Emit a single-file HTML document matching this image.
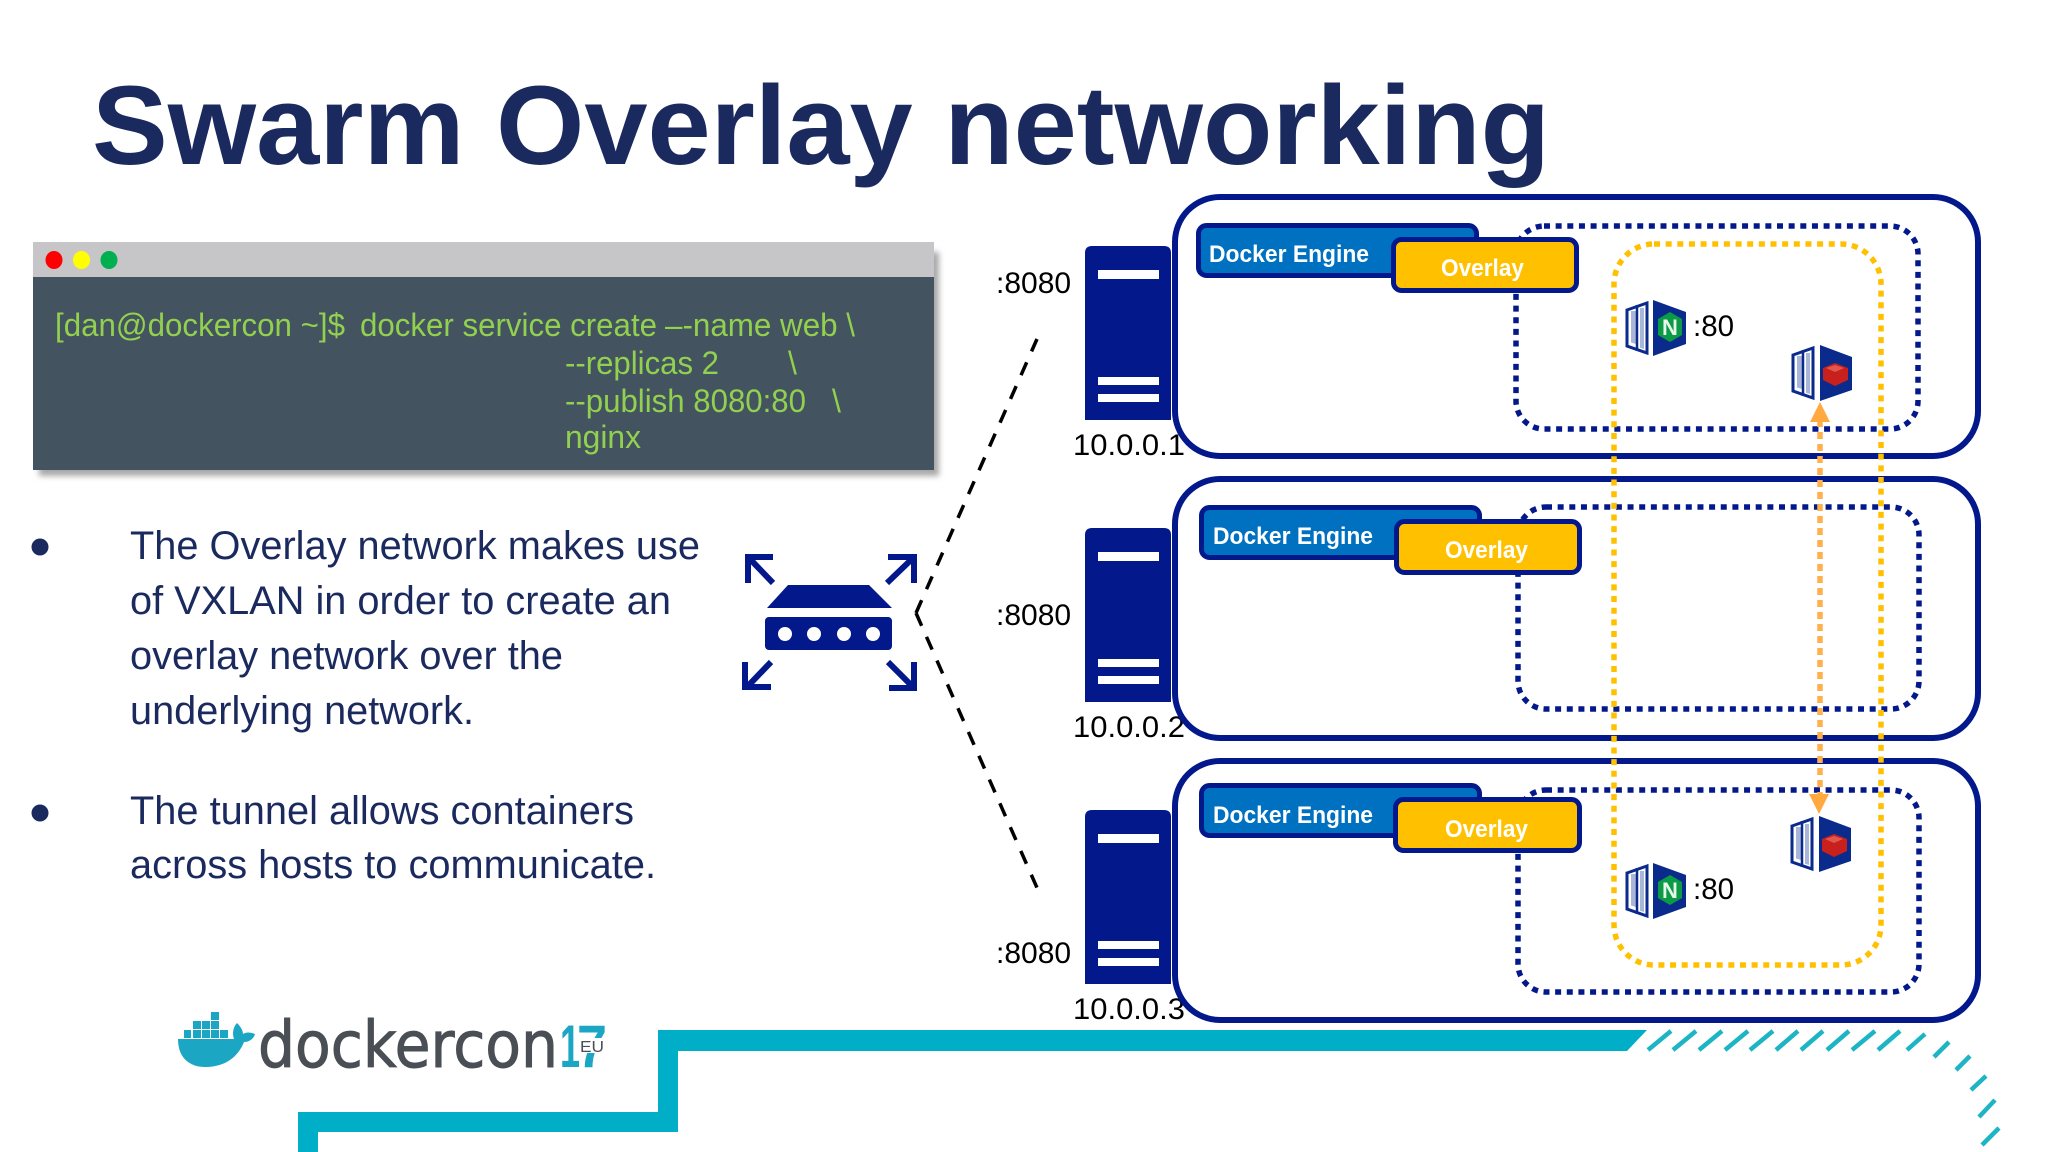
<!DOCTYPE html>
<html>
<head>
<meta charset="utf-8">
<style>
html,body{margin:0;padding:0;background:#fff;width:2048px;height:1152px;overflow:hidden}
svg{display:block}
text{font-family:"Liberation Sans",sans-serif}
</style>
</head>
<body>
<svg xmlns="http://www.w3.org/2000/svg" width="2048" height="1152" viewBox="0 0 2048 1152">
<defs>
<filter id="b" x="-5%" y="-5%" width="110%" height="110%"><feGaussianBlur stdDeviation="3"/></filter>
<g id="server">
<path d="M1085 253q0-7 7-7h72q7 0 7 7v167h-86z" fill="#03188a"/>
<rect x="1098" y="270" width="61" height="9" fill="#fff"/>
<rect x="1098" y="377" width="61" height="8" fill="#fff"/>
<rect x="1098" y="394" width="61" height="8" fill="#fff"/>
</g>
<g id="door">
<path d="M1627 310L1647 303V353L1627 346Z" fill="#fff" stroke="#0a2a8c" stroke-width="3"/>
<path d="M1631 311h5v33l-5-1.500zM1640 308h4v41l-4-1.300z" fill="#a9b6d8"/>
<path d="M1637 305v46" stroke="#0a2a8c" stroke-width="2.500"/>
</g>
</defs>

<rect width="2048" height="1152" fill="#fff"/>

<!-- Title -->
<text x="92" y="164" font-size="112" font-weight="700" fill="#1b2a5e" textLength="1458" lengthAdjust="spacingAndGlyphs">Swarm Overlay networking</text>

<!-- Terminal -->
<rect x="39" y="252" width="900" height="224" fill="#a8a8a8" filter="url(#b)"/>
<rect x="33" y="242" width="901" height="35" fill="#c6c6c8"/>
<rect x="33" y="277" width="901" height="193" fill="#43535f"/>
<ellipse cx="54" cy="260" rx="8.500" ry="9" fill="#ff0000"/>
<ellipse cx="81.500" cy="260" rx="8.500" ry="9" fill="#ffff00"/>
<ellipse cx="109" cy="260" rx="8.500" ry="9" fill="#00b050"/>
<g font-size="32" fill="#92d050">
<text x="55" y="336" textLength="290" lengthAdjust="spacingAndGlyphs">[dan@dockercon ~]$</text>
<text x="360" y="336" textLength="297" lengthAdjust="spacingAndGlyphs">docker service create</text>
<text x="665" y="336" textLength="190" lengthAdjust="spacingAndGlyphs">–-name web \</text>
<text x="565" y="374" textLength="154" lengthAdjust="spacingAndGlyphs">--replicas 2</text>
<text x="788" y="374">\</text>
<text x="565" y="412" textLength="241" lengthAdjust="spacingAndGlyphs">--publish 8080:80</text>
<text x="832" y="412">\</text>
<text x="565" y="448" textLength="76" lengthAdjust="spacingAndGlyphs">nginx</text>
</g>

<!-- Bullets -->
<ellipse cx="40" cy="547" rx="8.500" ry="8.500" fill="#1b2a5e"/>
<ellipse cx="40" cy="813" rx="8.500" ry="8.500" fill="#1b2a5e"/>
<g font-size="40" fill="#1b2a5e">
<text x="130" y="559" textLength="570" lengthAdjust="spacingAndGlyphs">The Overlay network makes use</text>
<text x="130" y="614" textLength="541" lengthAdjust="spacingAndGlyphs">of VXLAN in order to create an</text>
<text x="130" y="669" textLength="433" lengthAdjust="spacingAndGlyphs">overlay network over the</text>
<text x="130" y="724" textLength="344" lengthAdjust="spacingAndGlyphs">underlying network.</text>
<text x="130" y="824" textLength="504" lengthAdjust="spacingAndGlyphs">The tunnel allows containers</text>
<text x="130" y="878" textLength="526" lengthAdjust="spacingAndGlyphs">across hosts to communicate.</text>
</g>

<!-- Router icon -->
<path d="M788 585H869L892 608H767Z" fill="#03188a"/>
<rect x="765" y="617" width="127" height="33" rx="4" fill="#03188a"/>
<g fill="#fff"><circle cx="785" cy="634" r="7"/><circle cx="814" cy="634" r="7"/><circle cx="844" cy="634" r="7"/><circle cx="873" cy="634" r="7"/></g>
<g fill="none" stroke="#03188a" stroke-width="6">
<path d="M773 583L749 558M773 557H748V583"/>
<path d="M887 583L913 558M888 557H914V583"/>
<path d="M771 662L747 687M771 687H745V662"/>
<path d="M888 662L913 687M889 688H914V662"/>
</g>

<!-- Dashed links -->
<g fill="none" stroke="#000" stroke-width="3.500" stroke-dasharray="14 12">
<path d="M916 613L1037 339"/>
<path d="M916 613L1038 890"/>
</g>

<!-- Servers -->
<use href="#server"/>
<use href="#server" y="282"/>
<use href="#server" y="564"/>

<!-- Labels -->
<g font-size="30" fill="#000">
<text x="996" y="293">:8080</text>
<text x="996" y="625">:8080</text>
<text x="996" y="963">:8080</text>
<text x="1073" y="455" textLength="112" lengthAdjust="spacingAndGlyphs">10.0.0.1</text>
<text x="1073" y="737" textLength="112" lengthAdjust="spacingAndGlyphs">10.0.0.2</text>
<text x="1073" y="1019" textLength="112" lengthAdjust="spacingAndGlyphs">10.0.0.3</text>
</g>

<!-- Hosts -->
<g fill="none" stroke="#03188a" stroke-width="6">
<rect x="1175" y="197" width="803" height="259" rx="45"/>
<rect x="1175" y="479" width="803" height="259" rx="45"/>
<rect x="1175" y="761" width="803" height="259" rx="45"/>
</g>

<!-- Overlay network dotted -->
<g fill="none" stroke="#03188a" stroke-width="5.500" stroke-dasharray="6 5.650">
<rect x="1516" y="226" width="402" height="203" rx="28"/>
<rect x="1518" y="507" width="401" height="202" rx="28"/>
<rect x="1518" y="790" width="401" height="202" rx="28"/>
</g>
<rect x="1614" y="244" width="267" height="721" rx="40" fill="none" stroke="#ffc000" stroke-width="5.500" stroke-dasharray="6 5.650"/>

<!-- Orange arrow -->
<path d="M1820 420V795" stroke="#ffb04a" stroke-width="5.500" stroke-dasharray="7 5" fill="none"/>
<path d="M1820 402L1830 422H1810Z" fill="#ffa940"/>
<path d="M1819 814L1829 794H1809Z" fill="#ffa940"/>

<!-- Docker engine boxes -->
<g stroke="#03188a" stroke-width="5">
<rect x="1198.500" y="225.500" width="278" height="50" rx="8" fill="#0070c0"/>
<rect x="1393.500" y="239.500" width="183" height="51" rx="8" fill="#ffc000"/>
<rect x="1201.500" y="507.500" width="278" height="50" rx="8" fill="#0070c0"/>
<rect x="1396.500" y="521.500" width="183" height="51" rx="8" fill="#ffc000"/>
<rect x="1201.500" y="785.500" width="278" height="50" rx="8" fill="#0070c0"/>
<rect x="1395.500" y="799.500" width="184" height="51" rx="8" fill="#ffc000"/>
</g>
<g font-size="24" font-weight="700" fill="#fff">
<text x="1209" y="262" textLength="160" lengthAdjust="spacingAndGlyphs">Docker Engine</text>
<text x="1441" y="276" textLength="83" lengthAdjust="spacingAndGlyphs">Overlay</text>
<text x="1213" y="544" textLength="160" lengthAdjust="spacingAndGlyphs">Docker Engine</text>
<text x="1445" y="558" textLength="83" lengthAdjust="spacingAndGlyphs">Overlay</text>
<text x="1213" y="823" textLength="160" lengthAdjust="spacingAndGlyphs">Docker Engine</text>
<text x="1445" y="837" textLength="83" lengthAdjust="spacingAndGlyphs">Overlay</text>
</g>

<!-- Containers -->
<g>
<use href="#door"/>
<path d="M1653 300L1686 312V344L1653 356Z" fill="#0a2a8c"/>
<path d="M1670 312L1682 319V335L1670 342L1658 335V319Z" fill="#0c9b45"/>
<text x="1670" y="335" font-size="22" font-weight="700" fill="#e8f5ec" text-anchor="middle">N</text>
<text x="1693" y="336" font-size="29.500" fill="#000">:80</text>
</g>
<g transform="translate(0,563)">
<use href="#door"/>
<path d="M1653 300L1686 312V344L1653 356Z" fill="#0a2a8c"/>
<path d="M1670 312L1682 319V335L1670 342L1658 335V319Z" fill="#0c9b45"/>
<text x="1670" y="335" font-size="22" font-weight="700" fill="#e8f5ec" text-anchor="middle">N</text>
<text x="1693" y="336" font-size="29.500" fill="#000">:80</text>
</g>
<g id="redis">
<use href="#door" x="166" y="45"/>
<path d="M1820 345L1852 357V390L1820 401Z" fill="#0a2a8c"/>
<path d="M1823 368L1835 363L1848 368V380L1835 386L1823 380Z" fill="#c8201c"/>
<path d="M1826 368L1835 365L1844 368L1835 372Z" fill="#e2574c"/>
</g>
<use href="#redis" x="-1" y="471"/>

<!-- Teal line -->
<path d="M298 1152V1112H658V1030H1647L1627 1051H678V1132H318V1152Z" fill="#00aec7"/>
<g stroke="#1db5c4" stroke-width="4.500" fill="none">
<path d="M1648 1050L1671 1031M1673 1050L1696 1031M1699 1050L1722 1031M1725 1050L1748 1031M1750 1050L1773 1031M1776 1050L1798 1031M1801 1050L1823 1031M1827 1050L1849 1031M1852 1050L1875 1031M1878 1050L1900 1031"/>
<path d="M1907 1050L1925 1034M1934 1057L1949 1042M1956 1070L1970 1056M1971 1090L1986 1076M1979 1117L1995 1100M1982 1145L1999 1128"/>
</g>

<!-- Logo -->
<g fill="#1ba6c4">
<path d="M178 1039C178 1060 192 1067 205 1067C230 1067 240 1052 244 1042C250 1042 254 1038 255 1034C250 1032 246 1032 243 1034C243 1030 240 1026 237 1023C233 1027 232 1034 234 1039Z"/>
<rect x="184" y="1030" width="7" height="8"/><rect x="193" y="1030" width="8" height="8"/><rect x="202" y="1030" width="8" height="8"/><rect x="211" y="1030" width="8" height="8"/><rect x="220" y="1030" width="8" height="8"/>
<rect x="193" y="1021" width="8" height="8"/><rect x="202" y="1021" width="8" height="8"/><rect x="211" y="1021" width="8" height="8"/>
<rect x="211" y="1012" width="8" height="8"/>
</g>
<text x="258" y="1067" font-size="64" fill="#4a4f55" stroke="#4a4f55" stroke-width="1" textLength="300" lengthAdjust="spacingAndGlyphs" style="font-family:'DejaVu Sans',sans-serif">dockercon</text>
<text x="560" y="1067" font-size="60" font-weight="700" fill="#1ba6c4" textLength="20" lengthAdjust="spacingAndGlyphs">1</text>
<text x="577" y="1067" font-size="60" font-weight="700" fill="#1ba6c4" textLength="30" lengthAdjust="spacingAndGlyphs">7</text>
<rect x="578" y="1038" width="27" height="15" fill="#fff"/>
<text x="580" y="1052" font-size="16" fill="#4a4f55" textLength="24" lengthAdjust="spacingAndGlyphs">EU</text>
</svg>
</body>
</html>
